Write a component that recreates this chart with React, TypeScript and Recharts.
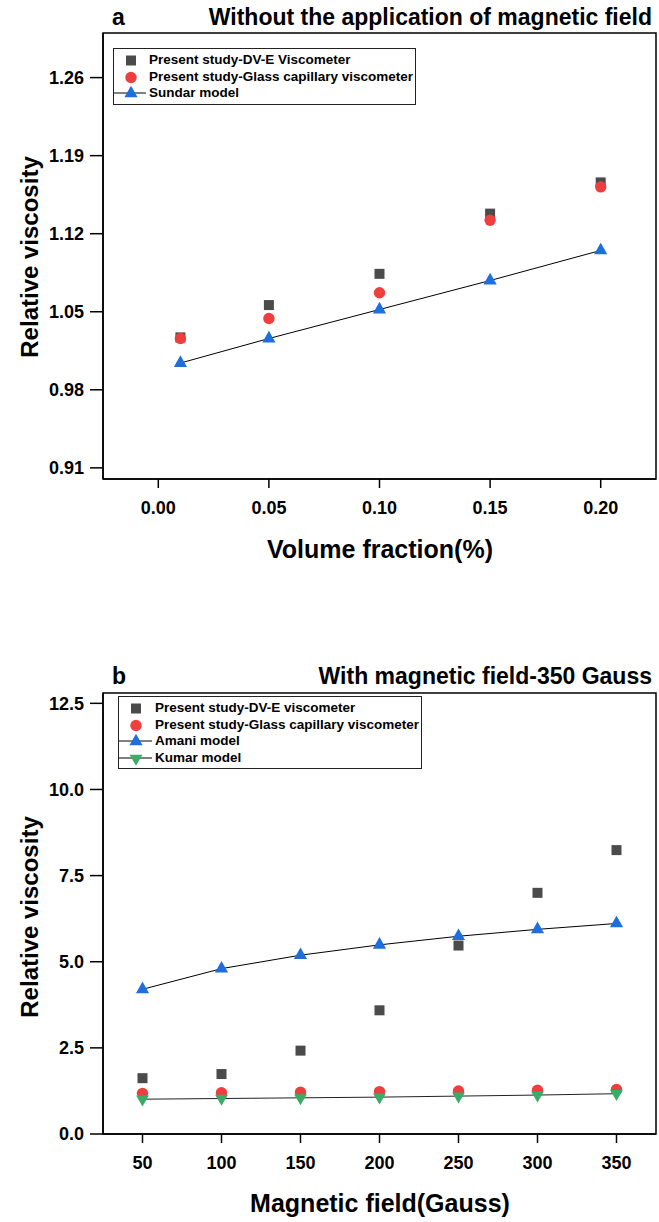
import React from 'react';
import { Label, Legend, ReferenceArea, Scatter, ScatterChart, XAxis, YAxis } from 'recharts';

// Two stacked panels: relative viscosity vs volume fraction (a) and vs
// magnetic field strength (b). Measured points are bare markers, the
// correlation models are markers joined by a thin line.

const FONT = '"Liberation Sans", Arial, Helvetica, sans-serif';

// panel a
const fractionA = [0.01, 0.05, 0.1, 0.15, 0.2];
const dveA = [1.027, 1.056, 1.084, 1.138, 1.166];
const glassA = [1.026, 1.044, 1.067, 1.132, 1.162];
const sundarA = [1.004, 1.026, 1.052, 1.078, 1.105];
const ticksXA = [0, 0.05, 0.1, 0.15, 0.2];
const ticksYA = [0.91, 0.98, 1.05, 1.12, 1.19, 1.26];

// panel b
const fieldB = [50, 100, 150, 200, 250, 300, 350];
const dveB = [1.62, 1.74, 2.42, 3.59, 5.47, 7.0, 8.24];
const glassB = [1.18, 1.2, 1.21, 1.23, 1.25, 1.27, 1.29];
const amaniB = [4.2, 4.8, 5.19, 5.49, 5.74, 5.94, 6.11];
const kumarB = [1.01, 1.03, 1.05, 1.07, 1.1, 1.13, 1.17];
const ticksXB = [50, 100, 150, 200, 250, 300, 350];
const ticksYB = [0, 2.5, 5, 7.5, 10, 12.5];

const GRAY = '#4b4b4b';
const RED = '#ef3e3e';
const BLUE = '#1e6fdd';
const GREEN = '#3aab69';

const pts = (xs: number[], ys: number[]) => xs.map((x, i) => ({ x, y: ys[i] }));

// marker shapes (triangles are centred on their centroid, as in Origin)
function Square({ cx, cy }: any) {
  return <rect x={cx - 5} y={cy - 5} width={10} height={10} fill={GRAY} />;
}
function Dot({ cx, cy }: any) {
  return <circle cx={cx} cy={cy} r={5.7} fill={RED} />;
}
function TriUp({ cx, cy }: any) {
  const w = 6.6;
  const h = 11.6;
  return (
    <polygon
      points={`${cx},${cy - (2 * h) / 3} ${cx - w},${cy + h / 3} ${cx + w},${cy + h / 3}`}
      fill={BLUE}
    />
  );
}
function TriDown({ cx, cy }: any) {
  const w = 6.4;
  const h = 11;
  return (
    <polygon
      points={`${cx},${cy + (2 * h) / 3} ${cx - w},${cy - h / 3} ${cx + w},${cy - h / 3}`}
      fill={GREEN}
    />
  );
}

type LegendRow = { label: string; Mark: (p: any) => React.ReactElement; line?: boolean };

function LegendBox({ rows, width, markX, textX }: { rows: LegendRow[]; width: number; markX: number; textX: number }) {
  return (
    <div
      style={{
        width,
        boxSizing: 'border-box',
        border: '1px solid #222',
        padding: '3px 0 2px 0',
        background: '#fff',
        fontFamily: FONT,
        fontWeight: 'bold',
        fontSize: 13.5,
        color: '#000',
      }}
    >
      {rows.map((r) => (
        <div key={r.label} style={{ display: 'flex', alignItems: 'center', height: 16.6 }}>
          <svg width={textX - 1} height={16} style={{ flex: 'none' }}>
            {r.line && <line x1={0} x2={textX - 4} y1={8} y2={8} stroke="#000" strokeWidth={1} />}
            <r.Mark cx={markX} cy={8.5} />
          </svg>
          <span style={{ whiteSpace: 'nowrap', lineHeight: '16px' }}>{r.label}</span>
        </div>
      ))}
    </div>
  );
}

const tickStyle = { fill: '#000', fontSize: 18, fontWeight: 'bold', fontFamily: FONT };
const axisLine = { stroke: '#000', strokeWidth: 1.5 };

function AxisTitle({ x, y, rotate, text, size }: { x: number; y: number; rotate?: boolean; text: string; size: number }) {
  return (
    <text
      x={x}
      y={y}
      textAnchor="middle"
      transform={rotate ? `rotate(-90, ${x}, ${y})` : undefined}
      fontFamily={FONT}
      fontWeight="bold"
      fontSize={size}
      fill="#000"
    >
      {text}
    </text>
  );
}

function PanelTitle({ top, letter, text }: { top: number; letter: string; text: string }) {
  const base = { position: 'absolute' as const, fontFamily: FONT, fontWeight: 'bold' as const, fontSize: 23, lineHeight: '23px', color: '#000' };
  return (
    <>
      <div style={{ ...base, left: 112, top }}>{letter}</div>
      <div style={{ ...base, right: 7, top, whiteSpace: 'nowrap' }}>{text}</div>
    </>
  );
}

export default function App() {
  const legendA: LegendRow[] = [
    { label: 'Present study-DV-E Viscometer', Mark: Square },
    { label: 'Present study-Glass capillary viscometer', Mark: Dot },
    { label: 'Sundar model', Mark: TriUp, line: true },
  ];
  const legendB: LegendRow[] = [
    { label: 'Present study-DV-E viscometer', Mark: Square },
    { label: 'Present study-Glass capillary viscometer', Mark: Dot },
    { label: 'Amani model', Mark: TriUp, line: true },
    { label: 'Kumar model', Mark: TriDown, line: true },
  ];

  return (
    <div style={{ position: 'absolute', left: 0, top: 0, width: 659, height: 1222, background: '#fff' }}>
      <PanelTitle top={6} letter="a" text="Without the application of magnetic field" />
      <div style={{ position: 'absolute', left: 0, top: 0 }}>
        <ScatterChart width={659} height={660} margin={{ top: 33, right: 3, bottom: 91, left: 43 }}>
          <XAxis
            type="number"
            dataKey="x"
            domain={[-0.025, 0.225]}
            ticks={ticksXA}
            interval={0}
            tickFormatter={(v: number) => v.toFixed(2)}
            tick={tickStyle}
            axisLine={axisLine}
            tickLine={axisLine}
            tickSize={9}
            tickMargin={13}
            height={90}
            allowDataOverflow
          >
            <Label content={() => <AxisTitle x={380} y={558} size={25} text="Volume fraction(%)" />} />
          </XAxis>
          <YAxis
            type="number"
            dataKey="y"
            domain={[0.9, 1.3]}
            ticks={ticksYA}
            interval={0}
            tickFormatter={(v: number) => v.toFixed(2)}
            tick={tickStyle}
            axisLine={axisLine}
            tickLine={axisLine}
            tickSize={13}
            tickMargin={6}
            width={60}
            allowDataOverflow
          >
            <Label content={() => <AxisTitle x={38} y={257} size={24} rotate text="Relative viscosity" />} />
          </YAxis>
          {/* plot frame */}
          <ReferenceArea x1={-0.025} x2={0.225} y1={0.9} y2={1.3} fill="none" stroke="#000" strokeWidth={1.5} />
          <Legend
            layout="vertical"
            align="center"
            verticalAlign="middle"
            wrapperStyle={{ left: 113, top: 48, width: 303 }}
            content={() => <LegendBox rows={legendA} width={303} markX={17} textX={36} />}
          />
          <Scatter name="dve" data={pts(fractionA, dveA)} shape={Square} isAnimationActive={false} />
          <Scatter name="glass" data={pts(fractionA, glassA)} shape={Dot} isAnimationActive={false} />
          <Scatter
            name="sundar"
            data={pts(fractionA, sundarA)}
            shape={TriUp}
            line={{ stroke: '#000', strokeWidth: 1 }}
            isAnimationActive={false}
          />
        </ScatterChart>
      </div>

      <PanelTitle top={665} letter="b" text="With magnetic field-350 Gauss" />
      <div style={{ position: 'absolute', left: 0, top: 660 }}>
        <ScatterChart width={659} height={562} margin={{ top: 33, right: 3, bottom: 8, left: 43 }}>
          <XAxis
            type="number"
            dataKey="x"
            domain={[25, 375]}
            ticks={ticksXB}
            interval={0}
            tick={tickStyle}
            axisLine={axisLine}
            tickLine={axisLine}
            tickSize={9}
            tickMargin={13}
            height={80}
            allowDataOverflow
          >
            <Label content={() => <AxisTitle x={380} y={552} size={25} text="Magnetic field(Gauss)" />} />
          </XAxis>
          <YAxis
            type="number"
            dataKey="y"
            domain={[0, 12.8]}
            ticks={ticksYB}
            interval={0}
            tickFormatter={(v: number) => v.toFixed(1)}
            tick={tickStyle}
            axisLine={axisLine}
            tickLine={axisLine}
            tickSize={13}
            tickMargin={6}
            width={60}
            allowDataOverflow
          >
            <Label content={() => <AxisTitle x={38} y={257} size={24} rotate text="Relative viscosity" />} />
          </YAxis>
          {/* plot frame */}
          <ReferenceArea x1={25} x2={375} y1={0} y2={12.8} fill="none" stroke="#000" strokeWidth={1.5} />
          <Legend
            layout="vertical"
            align="center"
            verticalAlign="middle"
            wrapperStyle={{ left: 118, top: 36, width: 304 }}
            content={() => <LegendBox rows={legendB} width={304} markX={17} textX={37} />}
          />
          <Scatter name="dve" data={pts(fieldB, dveB)} shape={Square} isAnimationActive={false} />
          <Scatter name="glass" data={pts(fieldB, glassB)} shape={Dot} isAnimationActive={false} />
          <Scatter
            name="amani"
            data={pts(fieldB, amaniB)}
            shape={TriUp}
            line={{ stroke: '#000', strokeWidth: 1 }}
            isAnimationActive={false}
          />
          <Scatter
            name="kumar"
            data={pts(fieldB, kumarB)}
            shape={TriDown}
            line={{ stroke: '#222', strokeWidth: 1 }}
            isAnimationActive={false}
          />
        </ScatterChart>
      </div>
    </div>
  );
}
